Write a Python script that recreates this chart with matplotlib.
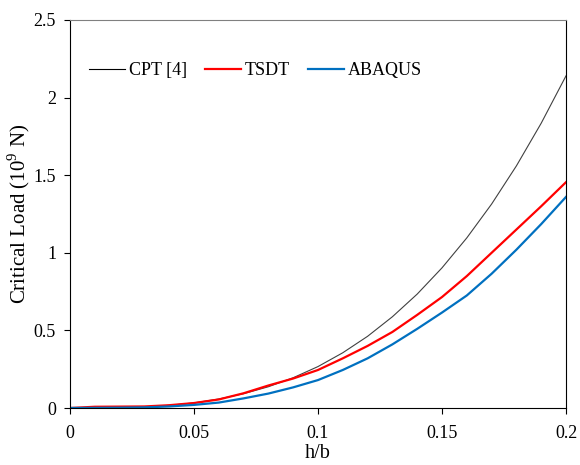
import matplotlib
matplotlib.use('Agg')
from matplotlib import pyplot as plt
from matplotlib.ticker import FuncFormatter

# h/b values
hb = [0.0, 0.01, 0.02, 0.03, 0.04, 0.05, 0.06, 0.07, 0.08, 0.09, 0.1,
      0.11, 0.12, 0.13, 0.14, 0.15, 0.16, 0.17, 0.18, 0.19, 0.2]

# Critical load (10^9 N)
cpt = [0.0, 0.0003, 0.002, 0.007, 0.017, 0.033, 0.058, 0.092, 0.137, 0.195, 0.267,
       0.356, 0.462, 0.588, 0.734, 0.903, 1.096, 1.314, 1.56, 1.835, 2.14]
tsdt = [0.0, 0.008, 0.009, 0.010, 0.018, 0.032, 0.055, 0.095, 0.145, 0.19, 0.245,
        0.32, 0.40, 0.49, 0.60, 0.715, 0.85, 1.0, 1.15, 1.30, 1.455]
abaqus = [0.0, 0.001, 0.002, 0.004, 0.010, 0.02, 0.035, 0.062, 0.093, 0.133, 0.18,
          0.245, 0.32, 0.41, 0.51, 0.615, 0.725, 0.865, 1.02, 1.185, 1.36]

plt.rcParams['font.family'] = 'serif'
plt.rcParams['font.serif'] = ['Liberation Serif', 'DejaVu Serif']
plt.rcParams['mathtext.fontset'] = 'custom'
plt.rcParams['mathtext.rm'] = 'Liberation Serif'

fig = plt.figure(figsize=(5.8, 4.65), dpi=100)
ax = fig.add_axes([70 / 580, 57 / 465, 496 / 580, 388 / 465])

ax.plot(hb, cpt, color='#404040', lw=0.8, label='CPT [4]')
ax.plot(hb, tsdt, color='#ff0000', lw=1.6, label='TSDT')
ax.plot(hb, abaqus, color='#0070c0', lw=1.6, label='ABAQUS')

ax.set_xlim(0, 0.2)
ax.set_ylim(0, 2.5)
ax.set_xticks([0, 0.05, 0.1, 0.15, 0.2])
ax.set_yticks([0, 0.5, 1, 1.5, 2, 2.5])
fmt = FuncFormatter(lambda v, p: '%g' % round(v, 4))
ax.xaxis.set_major_formatter(fmt)
ax.yaxis.set_major_formatter(fmt)
ax.tick_params(labelsize=13, direction='out', length=4, width=0.8,
               top=False, right=False, colors='black')
ax.tick_params(axis='x', pad=8)
ax.tick_params(axis='y', pad=6)

for side in ['left', 'bottom', 'right']:
    ax.spines[side].set_color('black')
    ax.spines[side].set_linewidth(0.8)
ax.spines['top'].set_color('#808080')
ax.spines['top'].set_linewidth(0.8)

ax.set_xlabel('h/b', fontsize=14.5, labelpad=2)
ax.set_ylabel(r'Critical Load (10$^{9}$ N)', fontsize=15)
ax.yaxis.set_label_coords(-0.077, 0.5)

leg = ax.legend(loc='center left', bbox_to_anchor=(0.024, 0.87), ncol=3, frameon=False,
                fontsize=13, handlelength=2.0, handletextpad=0.2, columnspacing=1.0,
                borderaxespad=0)
leg.get_lines()[0].set_color('black')

fig.savefig('out.png', dpi=100)
